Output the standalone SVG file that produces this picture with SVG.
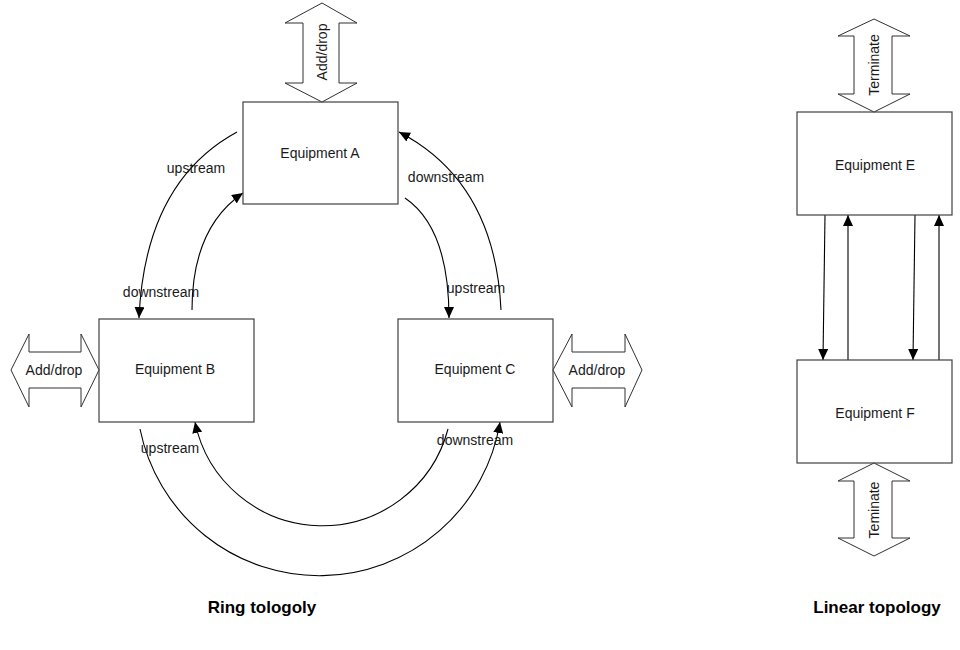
<svg xmlns="http://www.w3.org/2000/svg" width="960" height="650" viewBox="0 0 960 650">
  <style>
    .box { fill: #ffffff; stroke: #404040; stroke-width: 1.2; }
    .blk { fill: #ffffff; stroke: #303030; stroke-width: 1; stroke-linejoin: miter; }
    .lbl { font-family: "Liberation Sans", Arial, sans-serif; font-size: 14px; fill: #1a1a1a; text-anchor: middle; dominant-baseline: central; }
    .ttl { font-family: "Liberation Sans", Arial, sans-serif; font-size: 17px; font-weight: bold; fill: #000000; text-anchor: middle; }
    .wire { fill: none; stroke: #000000; stroke-width: 1.1; marker-end: url(#head); }
  </style>
  <defs>
    <marker id="head" markerUnits="userSpaceOnUse" markerWidth="12" markerHeight="10" refX="11" refY="5" orient="auto">
      <path d="M0,0 L11,5 L0,10 Z" fill="#000000"/>
    </marker>
  </defs>

  <rect width="960" height="650" fill="#ffffff"/>

  <!-- ring topology connectors -->
  <g id="connectors">
    <path class="wire" d="M237,132 Q145,182 139,318"/>
    <path class="wire" d="M192,310 Q192,228 243,193"/>
    <path class="wire" d="M501,310 Q495,182 399,132"/>
    <path class="wire" d="M405,198 Q449,228 449,318"/>
    <path class="wire" d="M140,429 A183,183 0 0 0 500,422"/>
    <path class="wire" d="M448,429 A130,130 0 0 1 195,422"/>
    <!-- linear topology links -->
    <path class="wire" d="M825,215 L823,360"/>
    <path class="wire" d="M848,360 L848,215"/>
    <path class="wire" d="M915,215 L913,360"/>
    <path class="wire" d="M939,360 L939,215"/>
  </g>

  <!-- link labels -->
  <g id="link-labels">
    <text class="lbl" x="196" y="168">upstream</text>
    <text class="lbl" x="161" y="292">downstream</text>
    <text class="lbl" x="446" y="177">downstream</text>
    <text class="lbl" x="476" y="288">upstream</text>
    <text class="lbl" x="170" y="448">upstream</text>
    <text class="lbl" x="475" y="440">downstream</text>
  </g>

  <g id="equipment-a">
    <rect class="box" x="243" y="102" width="155" height="102"/>
    <text class="lbl" x="320" y="153">Equipment A</text>
  </g>
  <g id="adddrop-a">
    <polygon class="blk" points="322,3 357,23 339,23 339,83 357,83 322,102 285,83 303,83 303,23 285,23"/>
    <text class="lbl" transform="translate(322,52) rotate(-90)">Add/drop</text>
  </g>

  <g id="equipment-b">
    <rect class="box" x="99" y="319" width="155" height="103"/>
    <text class="lbl" x="175" y="369">Equipment B</text>
  </g>
  <g id="adddrop-b">
    <polygon class="blk" points="11,370 29,334 29,352 81,352 81,334 99,370 81,407 81,388 29,388 29,407"/>
    <text class="lbl" x="54" y="370">Add/drop</text>
  </g>

  <g id="equipment-c">
    <rect class="box" x="398" y="319" width="155" height="103"/>
    <text class="lbl" x="475" y="369">Equipment C</text>
  </g>
  <g id="adddrop-c">
    <polygon class="blk" points="553,370 572,334 572,352 625,352 625,334 642,370 625,407 625,388 572,388 572,407"/>
    <text class="lbl" x="597" y="370">Add/drop</text>
  </g>

  <g id="equipment-e">
    <rect class="box" x="797" y="112" width="155" height="103"/>
    <text class="lbl" x="875" y="165">Equipment E</text>
  </g>
  <g id="terminate-e">
    <polygon class="blk" points="874,19 910,36 892,36 892,94 910,94 874,112 838,94 854,94 854,36 838,36"/>
    <text class="lbl" transform="translate(874,65) rotate(-90)">Terminate</text>
  </g>

  <g id="equipment-f">
    <rect class="box" x="797" y="360" width="155" height="103"/>
    <text class="lbl" x="875" y="413">Equipment F</text>
  </g>
  <g id="terminate-f">
    <polygon class="blk" points="874,463 910,481 892,481 892,538 910,538 874,556 838,538 854,538 854,481 838,481"/>
    <text class="lbl" transform="translate(874,510) rotate(-90)">Teminate</text>
  </g>

  <g id="titles">
    <text class="ttl" x="262" y="613">Ring tologoly</text>
    <text class="ttl" x="877" y="613">Linear topology</text>
  </g>
</svg>
